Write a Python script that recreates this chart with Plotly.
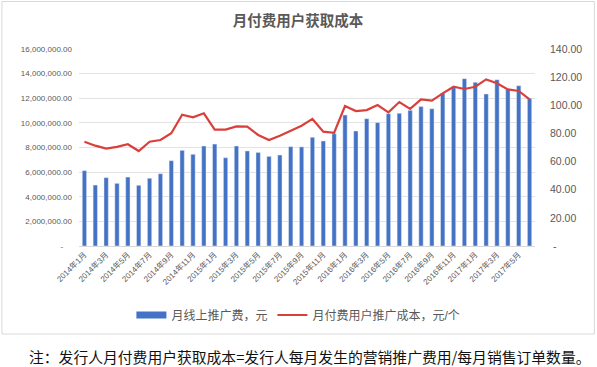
import plotly.graph_objects as go

months = [f"{y}年{m}月" for y in (2014, 2015, 2016, 2017) for m in range(1, 13)][:42]

spend = [6.12, 4.95, 5.55, 5.09, 5.60, 4.93, 5.50, 5.87, 6.93, 7.77,
         7.45, 8.12, 8.28, 7.17, 8.12, 7.72, 7.60, 7.28, 7.39, 8.07,
         8.05, 8.83, 8.53, 9.12, 10.64, 9.34, 10.34, 10.02, 10.75, 10.78,
         11.02, 11.32, 11.15, 12.40, 12.86, 13.59, 13.29, 12.35, 13.51, 12.72,
         13.02, 11.99]
spend = [v * 1_000_000 for v in spend]

cost = [74.1, 71.3, 69.2, 70.4, 72.3, 67.5, 74.1, 75.3, 80.1, 93.3,
        91.4, 94.3, 82.7, 82.7, 85.0, 84.8, 78.9, 75.3, 78.4, 82.0,
        85.5, 90.3, 81.3, 80.5, 99.5, 95.9, 96.6, 100.2, 95.0, 102.3,
        97.4, 104.2, 103.3, 108.5, 113.2, 111.6, 113.2, 118.4, 115.6, 111.3,
        110.2, 104.2]

left_ticks = [0, 2e6, 4e6, 6e6, 8e6, 10e6, 12e6, 14e6, 16e6]
left_text = ["-    "] + [f"{v:,.2f}" for v in left_ticks[1:]]
right_ticks = [0, 20, 40, 60, 80, 100, 120, 140]
right_text = [" -"] + [f"{v:.2f}" for v in right_ticks[1:]]
x_ticks = months[::2]

bar_name = "月线上推广费，元"
line_name = "月付费用户推广成本，元/个"

BLUE = "#4472C4"
RED = "#D9403C"
GREY = "#595959"
FONT = "Liberation Sans, Noto Sans CJK SC"

fig = go.Figure()
fig.add_trace(go.Bar(x=months, y=spend, marker_color=BLUE, name=bar_name,
                     showlegend=False, yaxis="y"))
fig.add_trace(go.Scatter(x=[None], y=[None], mode="lines", name=bar_name,
                         line=dict(color=BLUE, width=7), yaxis="y"))
fig.add_trace(go.Scatter(x=months, y=cost, mode="lines", name=line_name,
                         line=dict(color=RED, width=2.2), yaxis="y2"))

L, R, T, B = 78.6, 534.6, 49, 246
W, H = 597, 367
pw, ph = R - L, B - T

def px(x):
    return (x - L) / pw

def py(y):
    return (B - y) / ph

fig.update_layout(
    width=W, height=H,
    margin=dict(l=L, r=W - R, t=T, b=H - B, autoexpand=False),
    paper_bgcolor="white", plot_bgcolor="white",
    font=dict(family=FONT, color=GREY),
    bargap=0.6,
    title=dict(text="<b>月付费用户获取成本</b>", x=0.499, xanchor="center",
               y=1 - 21 / H, yanchor="middle",
               font=dict(size=14.5, color=GREY, family=FONT)),
    xaxis=dict(type="category", categoryorder="array", categoryarray=months,
               tickmode="array", tickvals=x_ticks, ticktext=x_ticks,
               tickangle=-45, tickfont=dict(size=8, color=GREY),
               showgrid=False, showline=True, linecolor="#D9D9D9",
               ticks="", range=[-0.5, 41.5]),
    yaxis=dict(range=[0, 16e6], tickmode="array", tickvals=left_ticks,
               ticktext=left_text, tickfont=dict(size=8, color=GREY),
               gridcolor="#E3E3E3", gridwidth=1, zeroline=False,
               ticklabelstandoff=6),
    yaxis2=dict(range=[0, 140], overlaying="y", side="right",
                tickmode="array", tickvals=right_ticks, ticktext=right_text,
                tickfont=dict(size=10.5, color=GREY), showgrid=False,
                zeroline=False, ticklabelstandoff=14),
    legend=dict(orientation="h", x=px(298), xanchor="center",
                y=py(315), yanchor="middle",
                font=dict(size=12, color=GREY), itemwidth=30,
                bgcolor="rgba(0,0,0,0)"),
    shapes=[dict(type="rect", xref="paper", yref="paper",
                 x0=px(1.5), x1=px(594), y0=py(1.5), y1=py(334),
                 line=dict(color="#D9D9D9", width=1), layer="below")],
    annotations=[dict(text="注：发行人月付费用户获取成本=发行人每月发生的营销推广费用/每月销售订单数量。",
                      xref="paper", yref="paper", x=px(27), xanchor="left",
                      y=py(356), yanchor="middle", showarrow=False,
                      font=dict(size=14.8, color="#111111",
                                family="Noto Sans CJK SC"))],
)

fig.write_html("out.html", config={"displayModeBar": False},
               post_script="document.body.style.margin='0';document.body.style.padding='0';")
